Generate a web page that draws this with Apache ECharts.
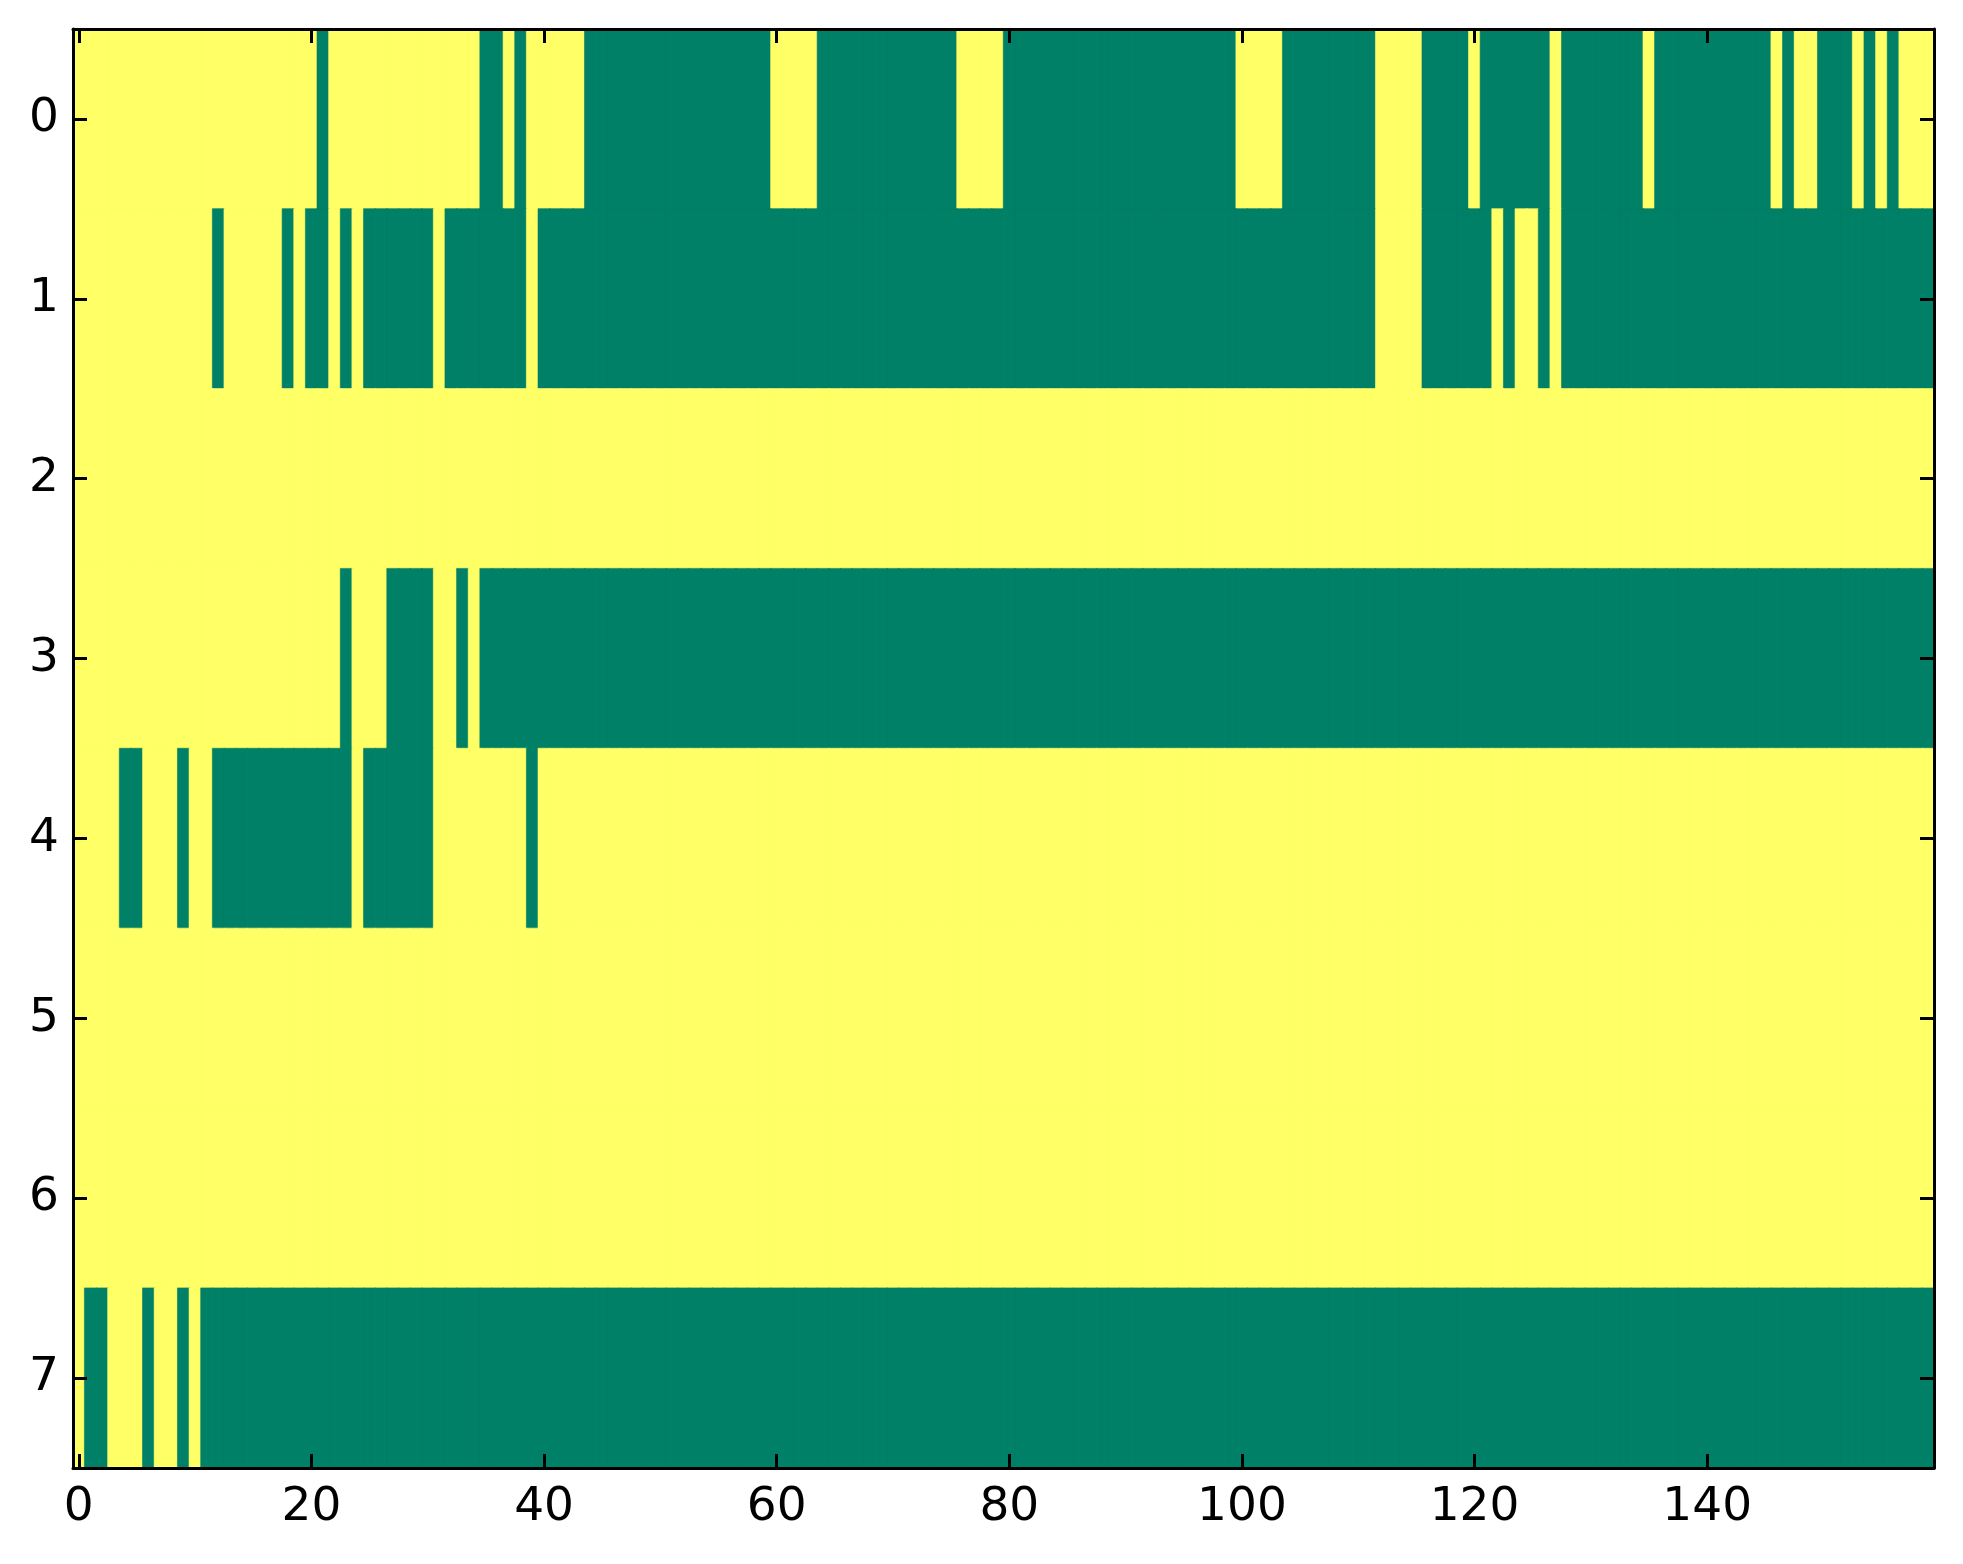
<!DOCTYPE html>
<html>
<head>
<meta charset="utf-8">
<script src="https://cdn.jsdelivr.net/npm/echarts@6/dist/echarts.min.js"></script>
<style>
html,body{margin:0;padding:0;background:#fff;}
#chart{width:1963px;height:1564px;}
</style>
</head>
<body>
<div id="chart"></div>
<script>
// Grid size
const nCols = 160;
const rowLabels = ['0','1','2','3','4','5','6','7'];
const xTickLabels = ['0','20','40','60','80','100','120','140'];

// Runs of value 0 (green) per row, as [firstCol, lastCol]; other cells are 1 (yellow)
const row0Zero = [[21,21],[35,36],[38,38],[44,59],[64,75],[80,99],[104,111],[116,119],[121,126],[128,134],[136,145],[147,147],[150,152],[154,154],[156,156]];
const row1Zero = [[12,12],[18,18],[20,21],[23,23],[25,30],[32,38],[40,111],[116,121],[123,123],[126,126],[128,159]];
const row2Zero = [];
const row3Zero = [[23,23],[27,30],[33,33],[35,159]];
const row4Zero = [[4,5],[9,9],[12,23],[25,30],[39,39]];
const row5Zero = [];
const row6Zero = [];
const row7Zero = [[1,2],[6,6],[9,9],[11,159]];

const rowsZero = [row0Zero,row1Zero,row2Zero,row3Zero,row4Zero,row5Zero,row6Zero,row7Zero];

// colormap ('summer'): 0 -> green, 1 -> yellow
const valueColors = {0:'#008066', 1:'#ffff66'};

const colCats = [];
for (let c = 0; c < nCols; c++) colCats.push(String(c));

const data = [];
rowsZero.forEach((runs, r) => {
  for (let c = 0; c < nCols; c++) {
    const v = runs.some(([a,b]) => c >= a && c <= b) ? 0 : 1;
    data.push({value:[c, r, v], itemStyle:{color:valueColors[v], borderColor:valueColors[v], borderWidth:0.6}});
  }
});

const FONT = 'DejaVu Sans';
const FS = 47;
const tickStyle = {color:'#000', width:3};
const showX = (idx) => xTickLabels.indexOf(String(idx)) >= 0;

const chart = echarts.init(document.getElementById('chart'), null, {renderer:'canvas'});
chart.setOption({
  animation:false,
  backgroundColor:'#fff',
  grid:{left:73, right:29, top:29, bottom:96, containLabel:false},
  xAxis:[{
    type:'category', data:colCats, position:'bottom', z:10,
    axisLine:{show:true, onZero:false, lineStyle:{color:'#000', width:3}},
    axisTick:{show:true, inside:true, length:14, alignWithLabel:true, interval:(i)=>showX(i), lineStyle:tickStyle},
    axisLabel:{show:true, interval:(i)=>showX(i), color:'#000', fontFamily:FONT, fontSize:FS, margin:16},
    splitLine:{show:false}
  },{
    type:'category', data:colCats, position:'top', z:10,
    axisLine:{show:true, onZero:false, lineStyle:{color:'#000', width:3}},
    axisTick:{show:true, inside:true, length:14, alignWithLabel:true, interval:(i)=>showX(i), lineStyle:tickStyle},
    axisLabel:{show:false},
    splitLine:{show:false}
  }],
  yAxis:[{
    type:'category', data:rowLabels, inverse:true, position:'left', z:10,
    axisLine:{show:true, onZero:false, lineStyle:{color:'#000', width:3}},
    axisTick:{show:true, inside:true, length:14, alignWithLabel:true, lineStyle:tickStyle},
    axisLabel:{show:true, color:'#000', fontFamily:FONT, fontSize:FS, margin:14},
    splitLine:{show:false}
  },{
    type:'category', data:rowLabels, inverse:true, position:'right', z:10,
    axisLine:{show:true, onZero:false, lineStyle:{color:'#000', width:3}},
    axisTick:{show:true, inside:true, length:14, alignWithLabel:true, lineStyle:tickStyle},
    axisLabel:{show:false},
    splitLine:{show:false}
  }],
  series:[{
    type:'heatmap', xAxisIndex:0, yAxisIndex:0, data:data,
    emphasis:{disabled:true},
    progressive:0
  }]
});
</script>
</body>
</html>
